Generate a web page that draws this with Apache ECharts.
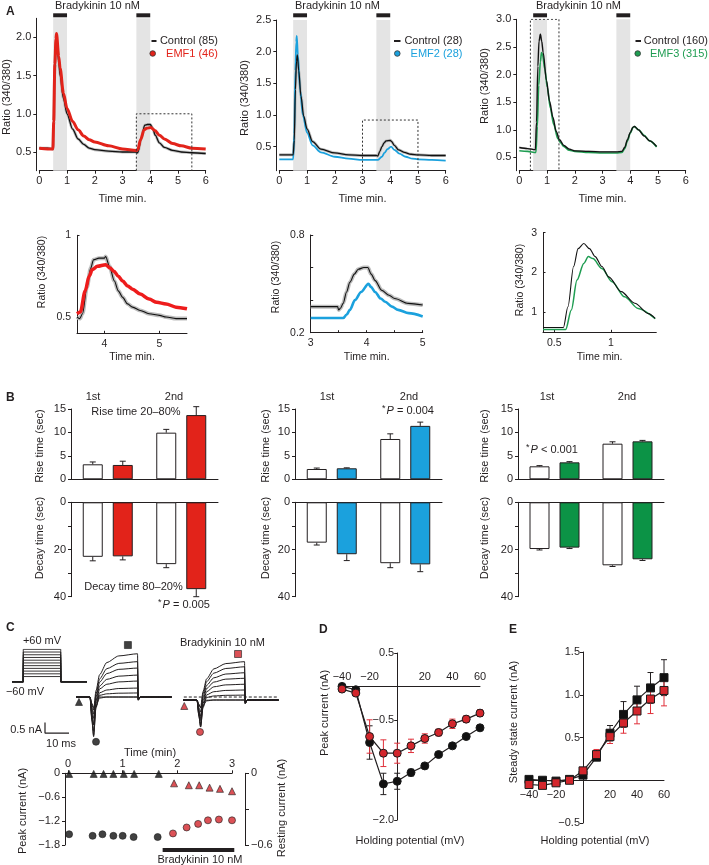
<!DOCTYPE html>
<html><head><meta charset="utf-8">
<script src="https://cdn.jsdelivr.net/npm/echarts@6/dist/echarts.min.js"></script>
<style>html,body{margin:0;padding:0;background:#fff}#c{width:709px;height:865px}</style>
</head><body><div id="c"></div>
<script>
// ================= DATA =================
// Panel A: bradykinin application windows (min)
const stimWindows = [[0.5, 1.0], [3.5, 4.0]];
// A1: [time (min), ratio 340/380]
const a1Control = [[0,0.55],[0.3,0.55],[0.49,0.54],[0.52,0.9],[0.56,1.6],[0.6,1.88],[0.63,1.95],[0.7,1.68],[0.75,1.5],[0.87,1.2],[1.0,1.0],[1.2,0.8],[1.4,0.67],[1.6,0.6],[1.8,0.55],[2.0,0.53],[2.5,0.51],[3.0,0.5],[3.5,0.5],[3.55,0.49],[3.68,0.68],[3.8,0.85],[3.9,0.86],[4.0,0.86],[4.09,0.81],[4.18,0.72],[4.33,0.62],[4.51,0.56],[4.81,0.52],[5.12,0.5],[5.5,0.49],[6.0,0.48]];
const a1Emf1 = [[0,0.55],[0.3,0.54],[0.49,0.54],[0.52,0.9],[0.56,1.65],[0.6,1.98],[0.62,2.05],[0.7,1.75],[0.75,1.6],[0.87,1.27],[1.0,1.07],[1.2,0.9],[1.4,0.79],[1.6,0.71],[1.8,0.66],[2.0,0.63],[2.5,0.58],[3.0,0.54],[3.5,0.52],[3.55,0.53],[3.65,0.66],[3.78,0.79],[3.87,0.81],[4.02,0.82],[4.17,0.78],[4.33,0.72],[4.51,0.67],[4.81,0.61],[5.12,0.58],[5.5,0.55],[6.0,0.54]];
// A2
const a2Control = [[0,0.37],[0.5,0.37],[0.54,0.6],[0.58,1.4],[0.62,1.85],[0.65,1.95],[0.7,1.7],[0.78,1.3],[0.88,0.98],[1.0,0.78],[1.2,0.58],[1.5,0.46],[2.0,0.4],[2.5,0.37],[3.0,0.36],[3.5,0.36],[3.55,0.35],[3.62,0.42],[3.7,0.5],[3.78,0.56],[3.85,0.59],[4.0,0.6],[4.05,0.58],[4.15,0.52],[4.3,0.45],[4.5,0.41],[4.75,0.38],[5.0,0.37],[5.5,0.36],[6.0,0.36]];
const a2Emf2 = [[0,0.3],[0.5,0.3],[0.54,0.7],[0.58,1.7],[0.61,2.15],[0.63,2.25],[0.67,1.95],[0.75,1.4],[0.85,1.0],[1.0,0.72],[1.2,0.52],[1.5,0.41],[2.0,0.34],[2.5,0.31],[3.0,0.29],[3.55,0.29],[3.7,0.34],[3.79,0.4],[3.9,0.46],[4.03,0.5],[4.15,0.45],[4.33,0.39],[4.56,0.34],[4.8,0.31],[5.0,0.3],[5.5,0.29],[6.0,0.28]];
// A3
const a3Control = [[0,0.68],[0.3,0.66],[0.58,0.64],[0.62,1.14],[0.67,2.15],[0.71,2.6],[0.76,2.73],[0.81,2.6],[0.86,2.4],[0.98,1.89],[1.09,1.52],[1.21,1.23],[1.33,0.97],[1.45,0.82],[1.6,0.72],[1.8,0.65],[2.0,0.62],[2.5,0.61],[3.0,0.6],[3.5,0.6],[3.7,0.61],[3.8,0.68],[3.9,0.82],[4.0,0.95],[4.1,1.05],[4.15,1.06],[4.3,1.0],[4.5,0.89],[4.7,0.8],[4.95,0.7]];
const a3Emf3 = [[0,0.62],[0.3,0.61],[0.6,0.59],[0.65,1.06],[0.7,1.81],[0.76,2.23],[0.8,2.4],[0.84,2.35],[0.92,2.1],[1.01,1.77],[1.12,1.39],[1.24,1.1],[1.39,0.84],[1.5,0.76],[1.6,0.7],[1.8,0.63],[2.0,0.61],[2.5,0.59],[3.0,0.58],[3.5,0.58],[3.7,0.59],[3.8,0.66],[3.9,0.8],[4.0,0.94],[4.1,1.04],[4.15,1.06],[4.3,1.0],[4.5,0.9],[4.7,0.8],[4.95,0.69]];
// zoomed windows [xMin, xMax, yMin, yMax]
const a1ZoomBox = [3.5, 5.5, 0.255, 1.0];
const a2ZoomBox = [3.0, 5.0, 0.12, 0.92];
const a3ZoomBox = [0.4, 1.43, 0.26, 3.0];
// insets
const a4Control = [[3.5,0.5],[3.55,0.49],[3.6,0.52],[3.68,0.68],[3.75,0.8],[3.8,0.85],[3.9,0.86],[4.0,0.86],[4.02,0.87],[4.09,0.81],[4.18,0.72],[4.25,0.66],[4.33,0.62],[4.42,0.58],[4.51,0.56],[4.65,0.54],[4.81,0.52],[5.0,0.51],[5.12,0.5],[5.3,0.49],[5.5,0.49]];
const a4Emf1 = [[3.5,0.52],[3.56,0.53],[3.65,0.66],[3.72,0.75],[3.78,0.79],[3.87,0.81],[4.02,0.82],[4.1,0.8],[4.17,0.78],[4.25,0.75],[4.33,0.72],[4.42,0.69],[4.51,0.67],[4.65,0.64],[4.81,0.61],[4.95,0.59],[5.12,0.58],[5.3,0.56],[5.5,0.55]];
const a5Control = [[3.0,0.36],[3.3,0.36],[3.48,0.36],[3.5,0.34],[3.53,0.35],[3.58,0.38],[3.64,0.45],[3.7,0.51],[3.78,0.56],[3.85,0.59],[3.95,0.6],[4.02,0.6],[4.08,0.56],[4.15,0.52],[4.27,0.46],[4.4,0.43],[4.5,0.41],[4.74,0.38],[5.0,0.37]];
const a5Emf2 = [[3.0,0.29],[3.3,0.29],[3.58,0.29],[3.64,0.31],[3.7,0.34],[3.79,0.4],[3.9,0.45],[4.03,0.5],[4.08,0.48],[4.15,0.45],[4.25,0.41],[4.33,0.39],[4.45,0.36],[4.56,0.34],[4.75,0.32],[5.0,0.3]];
const a6Control = [[0.4,0.62],[0.5,0.62],[0.58,0.62],[0.62,1.14],[0.67,2.15],[0.71,2.6],[0.76,2.73],[0.81,2.6],[0.86,2.4],[0.92,2.15],[0.98,1.89],[1.09,1.52],[1.21,1.23],[1.33,0.97],[1.39,0.85]];
const a6Emf3 = [[0.4,0.57],[0.5,0.57],[0.6,0.57],[0.65,1.06],[0.7,1.81],[0.76,2.23],[0.8,2.4],[0.84,2.35],[0.92,2.1],[1.01,1.77],[1.12,1.39],[1.24,1.1],[1.39,0.84]];

// Panel B: [1st, 2nd] stimulus
const stimOrder = ['1st', '2nd'];
const b1RiseCtrl = [3.2, 9.95], b1RiseCtrlErr = [0.5, 0.7];
const b1RiseEmf = [3.06, 13.7], b1RiseEmfErr = [0.8, 1.8];
const b1DecayCtrl = [23.1, 26.2], b1DecayCtrlErr = [1.7, 1.5];
const b1DecayEmf = [22.9, 36.8], b1DecayEmfErr = [1.5, 3.2];
const b2RiseCtrl = [2.2, 8.6], b2RiseCtrlErr = [0.2, 1.1];
const b2RiseEmf = [2.35, 11.4], b2RiseEmfErr = [0.1, 0.8];
const b2DecayCtrl = [17.1, 25.8], b2DecayCtrlErr = [1.0, 1.9];
const b2DecayEmf = [22.0, 26.3], b2DecayEmfErr = [2.7, 3.1];
const b3RiseCtrl = [2.77, 7.6], b3RiseCtrlErr = [0.15, 0.4];
const b3RiseEmf = [3.62, 8.1], b3RiseEmfErr = [0.15, 0.2];
const b3DecayCtrl = [19.8, 26.7], b3DecayCtrlErr = [0.4, 0.5];
const b3DecayEmf = [19.2, 24.15], b3DecayEmfErr = [0.4, 0.5];

// Panel C: voltage protocol (mV), current traces (ms, nA)
const holdLevel = -60;
const stepLevels = [-40,-30,-20,-10,0,10,20,30,40,50,60];
const pulseMs = [0, 20];
const traceTimes = [-5.8, 0, 0.8, 1.5, 2.5, 4, 7, 12, 19.8, 20.1, 21, 34];
const ctrlTraces = [
  [0,0,-0.3,-0.5,-0.15,0,0,0,0,-0.05,0,0],
  [0,0,-0.8,-1.3,-0.4,-0.05,0,0,0,-0.05,0,0],
  [0,0,-1.1,-1.86,-0.5,0.08,0.15,0.18,0.19,-0.1,0,0],
  [0,0,-1.1,-1.8,-0.45,0.2,0.33,0.4,0.42,-0.1,0,0],
  [0,0,-1.0,-1.6,-0.3,0.38,0.6,0.71,0.75,-0.12,0,0],
  [0,0,-0.8,-1.3,-0.15,0.52,0.83,0.98,1.03,-0.12,0,0],
  [0,0,-0.6,-1.0,0.0,0.7,1.1,1.3,1.36,-0.14,0,0],
  [0,0,-0.5,-0.8,0.15,0.85,1.33,1.58,1.66,-0.14,0,0],
  [0,0,-0.35,-0.6,0.3,1.05,1.62,1.93,2.03,-0.15,0,0]
];
const bkTraces = [
  [-0.14,-0.14,-0.35,-0.5,-0.25,-0.15,-0.14,-0.14,-0.14,-0.2,-0.14,-0.14],
  [-0.14,-0.14,-0.7,-1.0,-0.4,-0.18,-0.14,-0.14,-0.14,-0.22,-0.14,-0.14],
  [-0.14,-0.14,-0.9,-1.4,-0.5,-0.02,0.05,0.08,0.09,-0.25,-0.14,-0.14],
  [-0.14,-0.14,-0.9,-1.41,-0.45,0.1,0.25,0.31,0.33,-0.25,-0.14,-0.14],
  [-0.14,-0.14,-0.85,-1.3,-0.3,0.25,0.48,0.57,0.6,-0.28,-0.14,-0.14],
  [-0.14,-0.14,-0.7,-1.1,-0.15,0.4,0.7,0.84,0.88,-0.28,-0.14,-0.14],
  [-0.14,-0.14,-0.6,-0.9,0.0,0.55,0.9,1.08,1.14,-0.3,-0.14,-0.14],
  [-0.14,-0.14,-0.5,-0.7,0.15,0.72,1.12,1.34,1.42,-0.3,-0.14,-0.14],
  [-0.14,-0.14,-0.35,-0.5,0.25,0.85,1.32,1.57,1.66,-0.3,-0.14,-0.14]
];
const ctrlSquare = [15.8, 2.44], ctrlTriangle = [-4.6, -0.23], ctrlCircle = [2.5, -2.1];
const bkSquare = [17.1, 2.02], bkTriangle = [-5.3, -0.42], bkCircle = [1.25, -1.64];
const scaleBarOrigin = [-18.75, -1.69], scaleBarNA = 0.5, scaleBarMs = 10;
// time course (min)
const tcPeakTimeCtrl = [0.02,0.45,0.63,0.83,1.0,1.2,1.64];
const tcPeakCtrl = [-1.53,-1.57,-1.53,-1.57,-1.57,-1.6,-1.6];
const tcPeakTimeBk = [1.92,2.17,2.38,2.56,2.76,3.0];
const tcPeakBk = [-1.51,-1.36,-1.27,-1.18,-1.16,-1.18];
const tcRestTimeCtrl = [0.02,0.47,0.65,0.83,1.02,1.21,1.66];
const tcRestCtrl = [-0.005,-0.005,-0.005,-0.005,-0.005,-0.005,-0.005];
const tcRestTimeBk = [1.94,2.21,2.4,2.59,2.78,3.0];
const tcRestBk = [-0.084,-0.1,-0.1,-0.12,-0.13,-0.15];
const bkWindowMin = [1.73, 3.04];

// Panels D, E: holding potential (mV)
const holdingV = [-40,-30,-20,-10,0,10,20,30,40,50,60];
const dCtrl = [0.0,-0.05,-0.84,-1.46,-1.42,-1.29,-1.19,-1.02,-0.89,-0.75,-0.62];
const dCtrlErr = [0.02,0.02,0.25,0.16,0.12,0.05,0.03,0.03,0.03,0.03,0.03];
const dBk = [-0.04,-0.1,-0.75,-1.0,-1.0,-0.89,-0.78,-0.69,-0.56,-0.49,-0.4];
const dBkErr = [0.02,0.02,0.25,0.2,0.15,0.1,0.07,0.05,0.07,0.05,0.05];
const eCtrl = [0.01,0.0,-0.01,0.01,0.06,0.27,0.55,0.77,0.94,1.08,1.2];
const eCtrlErr = [0.01,0.01,0.01,0.01,0.02,0.03,0.09,0.15,0.16,0.18,0.21];
const eBk = [-0.05,-0.06,-0.03,0.0,0.11,0.3,0.51,0.67,0.81,0.95,1.05];
const eBkErr = [0.01,0.01,0.01,0.01,0.02,0.06,0.08,0.12,0.15,0.17,0.18];

// ================= STYLE / BUILD =================
const FONT = '"Liberation Sans", Arial, Helvetica, sans-serif';
const INK = '#231f20';
const RED = '#e2231a', RED_PT = '#d3262c', BLUE = '#1ba1dd', GREEN = '#0c9346', GREEN_LINE = '#1f9d52';
const minus = s => String(s).replace('-', '\u2212');

const grids = [], xAxes = [], yAxes = [], series = [], graphics = [];
function addGrid(g) { grids.push(Object.assign({ containLabel: false, outerBoundsMode: 'none' }, g)); return grids.length - 1; }
function addX(o) { xAxes.push(o); return xAxes.length - 1; }
function addY(o) { yAxes.push(o); return yAxes.length - 1; }
function ax(o) {
  const a = {
    type: o.type || 'value', gridIndex: o.grid, position: o.position, offset: o.offset || 0,
    inverse: !!o.inverse, show: o.show !== false, splitLine: { show: false },
    axisLine: { show: o.line !== false, onZero: false, lineStyle: { color: INK, width: 1 } },
    axisTick: { show: o.tickLen !== 0, length: o.tickLen == null ? 3 : o.tickLen, inside: !!o.tickInside, lineStyle: { color: INK, width: 1 } },
    axisLabel: { show: o.labels !== false, color: INK, fontFamily: FONT, fontSize: o.fs || 11, margin: o.margin == null ? 4 : o.margin, hideOverlap: false }
  };
  if (o.type === 'category') { a.data = o.data; } else { a.min = o.min; a.max = o.max; }
  if (o.fmt) a.axisLabel.formatter = o.fmt;
  if (o.interval != null) a.interval = o.interval;
  if (o.labelValues) a.axisLabel.customValues = o.labelValues;
  if (o.tickValues) a.axisTick.customValues = o.tickValues;
  return a;
}
function txt(x, y, text, o = {}) {
  const st = { text, fill: o.color || INK, font: `${o.italic ? 'italic ' : ''}${o.bold ? 'bold ' : ''}${o.size || 11}px ${FONT}`,
    align: o.align || 'center', verticalAlign: 'middle' };
  if (o.rich) st.rich = o.rich;
  graphics.push({ type: 'text', x, y, rotation: o.rot || 0, z: 100, silent: true, style: st });
}
function lineS(xi, yi, data, color, width, extra) {
  return Object.assign({ type: 'line', xAxisIndex: xi, yAxisIndex: yi, data, showSymbol: false, symbol: 'none', silent: true,
    smooth: 0.3, smoothMonotone: 'x', lineStyle: { color, width }, z: 3 }, extra || {});
}
function rectSeries(xi, yi, windows, color) {
  return { type: 'custom', xAxisIndex: xi, yAxisIndex: yi, silent: true, data: windows, encode: { x: [0, 1] }, z: 4,
    renderItem(p, api) {
      const a = api.coord([api.value(0), 1]), b = api.coord([api.value(1), 0]);
      return { type: 'rect', shape: { x: a[0], y: a[1], width: b[0] - a[0], height: b[1] - a[1] }, style: { fill: color } };
    } };
}
function boxSeries(xi, yi, b) {
  return { type: 'line', xAxisIndex: xi, yAxisIndex: yi, silent: true, showSymbol: false, symbol: 'none', z: 6,
    data: [[b[0], b[2]], [b[0], b[3]], [b[1], b[3]], [b[1], b[2]]],
    lineStyle: { color: '#333', width: 1, type: [2, 2] } };
}
function errSeries(xi, yi, xs, vals, errs, color, offset, oneSided) {
  return { type: 'custom', xAxisIndex: xi, yAxisIndex: yi, silent: true, z: oneSided ? 5 : 2, encode: { x: 0, y: 1 },
    data: vals.map((v, i) => [xs[i], v, errs[i]]),
    renderItem(p, api) {
      const c = api.value(0), v = api.value(1), e = api.value(2);
      const lo = api.coord([c, oneSided ? v : v - e]), hi = api.coord([c, v + e]);
      const x = lo[0] + offset;
      const kids = [
        { type: 'line', shape: { x1: x, y1: lo[1], x2: x, y2: hi[1] }, style: { stroke: color, lineWidth: 1 } },
        { type: 'line', shape: { x1: x - 3, y1: hi[1], x2: x + 3, y2: hi[1] }, style: { stroke: color, lineWidth: 1 } }
      ];
      if (!oneSided) kids.push({ type: 'line', shape: { x1: x - 3, y1: lo[1], x2: x + 3, y2: lo[1] }, style: { stroke: color, lineWidth: 1 } });
      return { type: 'group', children: kids };
    } };
}
const zipXY = (xs, ys) => xs.map((x, i) => [x, ys[i]]);

// ---------- Panel A (top) ----------
function panelA(c) {
  const g = addGrid({ left: c.left, top: c.top, width: c.width, height: c.height });
  const xi = addX(ax({ grid: g, min: 0, max: 6, interval: 1, position: 'bottom', margin: 5 }));
  const yi = addY(ax({ grid: g, min: c.ymin, max: c.ymax, position: 'left', offset: 3, labelValues: c.yLabels, tickValues: c.yLabels, fmt: v => v.toFixed(1), margin: 5 }));
  const gb = addGrid({ left: c.left, top: c.barTop, width: c.width, height: 4 });
  const xb = addX(ax({ grid: gb, min: 0, max: 6, show: false }));
  const yb = addY(ax({ grid: gb, min: 0, max: 1, show: false }));
  series.push(rectSeries(xb, yb, stimWindows, INK));
  const bands = { silent: true, itemStyle: { color: '#e4e4e4' }, data: stimWindows.map(w => [{ xAxis: w[0] }, { xAxis: w[1] }]) };
  const sCtrlShadow = lineS(xi, yi, c.ctrl, '#bdbdbd', c.shadow || 3, { markArea: bands, z: 2 });
  const sCtrl = lineS(xi, yi, c.ctrl, '#111', 1.3);
  const sEmf = lineS(xi, yi, c.emf, c.color, c.emfWidth);
  if (c.emfOnTop) series.push(sCtrlShadow, sCtrl, sEmf); else series.push(sCtrlShadow, sEmf, sCtrl);
  series.push(boxSeries(xi, yi, c.box));
  txt(c.titleX, 6, 'Bradykinin 10 nM');
  txt(c.nameX, c.nameY, 'Ratio (340/380)', { rot: Math.PI / 2 });
  txt(c.left + c.width / 2, 199, 'Time min.');
  graphics.push({ type: 'line', silent: true, z: 100, shape: { x1: c.dash[0], y1: 41, x2: c.dash[1], y2: 41 }, style: { stroke: INK, lineWidth: 2 } });
  graphics.push({ type: 'circle', silent: true, z: 100, shape: { cx: c.dot, cy: 53.5, r: 2.8 }, style: { fill: c.color, stroke: '#333', lineWidth: 0.8 } });
  txt(c.legRight, 41, c.ctrlName, { align: 'right' });
  txt(c.legRight, 54, c.emfName, { align: 'right', color: c.color });
}
panelA({ left: 39.3, top: 18.3, width: 166.4, height: 152.4, ymin: 0.255, ymax: 2.25, yLabels: [0.5, 1, 1.5, 2],
  ctrl: a1Control, emf: a1Emf1, color: RED, emfWidth: 3, emfOnTop: true, box: a1ZoomBox, barTop: 13.3,
  titleX: 97.5, nameX: 7, nameY: 97, dash: [151.5, 156.5], dot: 152.7, legRight: 218, ctrlName: 'Control (85)', emfName: 'EMF1 (46)' });
panelA({ left: 279.3, top: 20, width: 166.4, height: 150.7, ymin: 0.12, ymax: 2.5, yLabels: [0.5, 1, 1.5, 2, 2.5],
  ctrl: a2Control, emf: a2Emf2, color: BLUE, emfWidth: 1.8, emfOnTop: false, box: a2ZoomBox, barTop: 13.3,
  titleX: 337.5, nameX: 245, nameY: 98, dash: [394, 400.5], dot: 397.3, legRight: 462.5, ctrlName: 'Control (28)', emfName: 'EMF2 (28)' });
panelA({ left: 519.3, top: 19.3, width: 166.4, height: 151.4, ymin: 0.26, ymax: 3.0, yLabels: [0.5, 1, 1.5, 2, 2.5, 3],
  ctrl: a3Control, emf: a3Emf3, color: GREEN_LINE, emfWidth: 1.6, emfOnTop: false, box: a3ZoomBox, barTop: 13.3, shadow: 1.8,
  titleX: 578.5, nameX: 485, nameY: 86, dash: [635.5, 641], dot: 637.7, legRight: 708, ctrlName: 'Control (160)', emfName: 'EMF3 (315)' });

// ---------- Panel A (insets) ----------
function inset(c) {
  const g = addGrid({ left: c.left, top: c.top, width: c.width, height: c.height });
  const xi = addX(ax({ grid: g, min: c.xr[0], max: c.xr[1], position: 'bottom', labelValues: c.xl, tickValues: c.xt || c.xl, tickInside: true, tickLen: 2.5, fs: 10.5, margin: 5, fmt: v => String(v) }));
  const yi = addY(ax({ grid: g, min: c.yr[0], max: c.yr[1], position: 'left', labelValues: c.yl, tickValues: c.yt || c.yl, tickInside: true, tickLen: 2.5, fs: 10.5, margin: 6, fmt: v => String(v) }));
  if (c.shadow) series.push(lineS(xi, yi, c.ctrl, '#bdbdbd', c.shadow, { z: 2 }));
  const sCtrl = lineS(xi, yi, c.ctrl, '#111', 1.1);
  const sEmf = lineS(xi, yi, c.emf, c.color, c.emfWidth);
  if (c.emfOnTop) series.push(sCtrl, sEmf); else series.push(sEmf, sCtrl);
  txt(c.nameX, c.nameY, 'Ratio (340/380)', { rot: Math.PI / 2, size: 10.5 });
  txt(c.left + c.width / 2, 357, 'Time min.', { size: 10.5 });
}
inset({ left: 77, top: 235.3, width: 110, height: 98, xr: [3.5, 5.5], yr: [0.4, 1.0], xl: [4, 5], yl: [0.5, 1],
  ctrl: a4Control, emf: a4Emf1, color: '#ee1c1c', emfWidth: 3.5, shadow: 4, emfOnTop: true, nameX: 42, nameY: 272 });
inset({ left: 310.7, top: 235, width: 112, height: 97.7, xr: [3, 5], yr: [0.2, 0.8], xl: [3, 4, 5], xt: [3, 3.5, 4, 4.5, 5], yl: [0.2, 0.8], yt: [0.2, 0.4, 0.6, 0.8],
  ctrl: a5Control, emf: a5Emf2, color: BLUE, emfWidth: 2.6, shadow: 4, emfOnTop: false, nameX: 276, nameY: 277 });
inset({ left: 543, top: 232.7, width: 113.3, height: 99.6, xr: [0.4, 1.4], yr: [0.5, 3], xl: [0.5, 1], yl: [1, 2, 3],
  ctrl: a6Control, emf: a6Emf3, color: GREEN_LINE, emfWidth: 1.5, emfOnTop: false, nameX: 520, nameY: 280 });

// ---------- Panel B ----------
function panelB(c) {
  const gr = addGrid({ left: c.left, top: 409, width: c.width, height: 70.3 });
  const xr = addX(ax({ grid: gr, type: 'category', data: stimOrder, position: 'bottom', tickLen: 0, labels: false }));
  const yr = addY(ax({ grid: gr, min: 0, max: 15, interval: 5, position: 'left', margin: 5 }));
  const bar = (xi, yi, d, col) => ({ type: 'bar', xAxisIndex: xi, yAxisIndex: yi, data: d, barWidth: 20, barGap: '50%', silent: true, z: 3,
    itemStyle: { color: col, borderColor: INK, borderWidth: 1 } });
  series.push(bar(xr, yr, c.rc, '#fff'), bar(xr, yr, c.re, c.color));
  series.push(errSeries(xr, yr, [0, 1], c.rc, c.rce, INK, -15, true), errSeries(xr, yr, [0, 1], c.re, c.ree, INK, 15, true));
  const gd = addGrid({ left: c.left, top: 502.3, width: c.width, height: 94.4 });
  const xd = addX(ax({ grid: gd, type: 'category', data: stimOrder, position: 'top', tickLen: 0, labels: false }));
  const yd = addY(ax({ grid: gd, min: 0, max: 40, interval: 10, inverse: true, position: 'left', labelValues: [0, 20, 40], tickValues: [0, 10, 20, 30, 40], margin: 5 }));
  series.push(bar(xd, yd, c.dc, '#fff'), bar(xd, yd, c.de, c.color));
  series.push(errSeries(xd, yd, [0, 1], c.dc, c.dce, INK, -15, true), errSeries(xd, yd, [0, 1], c.de, c.dee, INK, 15, true));
  txt(c.nameX, 446, 'Rise time (sec)', { rot: Math.PI / 2 });
  txt(c.nameX, 538, 'Decay time (sec)', { rot: Math.PI / 2 });
  txt(c.first, 397, '1st');
  txt(c.second, 397, '2nd');
}
panelB({ left: 71, width: 147, color: RED, rc: b1RiseCtrl, rce: b1RiseCtrlErr, re: b1RiseEmf, ree: b1RiseEmfErr,
  dc: b1DecayCtrl, dce: b1DecayCtrlErr, de: b1DecayEmf, dee: b1DecayEmfErr, nameX: 40, first: 93, second: 174 });
panelB({ left: 295, width: 147, color: BLUE, rc: b2RiseCtrl, rce: b2RiseCtrlErr, re: b2RiseEmf, ree: b2RiseEmfErr,
  dc: b2DecayCtrl, dce: b2DecayCtrlErr, de: b2DecayEmf, dee: b2DecayEmfErr, nameX: 266, first: 327, second: 409 });
panelB({ left: 518, width: 146, color: GREEN, rc: b3RiseCtrl, rce: b3RiseCtrlErr, re: b3RiseEmf, ree: b3RiseEmfErr,
  dc: b3DecayCtrl, dce: b3DecayCtrlErr, de: b3DecayEmf, dee: b3DecayEmfErr, nameX: 485, first: 547, second: 627 });
const pRich = { n: { fontSize: 11, fontFamily: FONT, fill: INK }, s: { fontSize: 9, fontFamily: FONT, fill: INK, padding: [0, 1, 4, 0] }, i: { fontSize: 11, fontFamily: FONT, fontStyle: 'italic', fill: INK } };
txt(136, 412, 'Rise time 20\u201380%');
txt(133.5, 587, 'Decay time 80\u201320%');
txt(184, 605, '{s|*}{i|P}{n| = 0.005}', { rich: pRich });
txt(408, 411, '{s|*}{i|P}{n| = 0.004}', { rich: pRich });
txt(552, 450, '{s|*}{i|P}{n| < 0.001}', { rich: pRich });

// ---------- Panel C ----------
// voltage protocol
{
  const g = addGrid({ left: 12, top: 649.3, width: 75, height: 32.7 });
  const xi = addX(ax({ grid: g, min: -6, max: 34, show: false }));
  const yi = addY(ax({ grid: g, min: -60, max: 60, show: false }));
  stepLevels.forEach(v => series.push({ type: 'line', xAxisIndex: xi, yAxisIndex: yi, silent: true, symbol: 'none', showSymbol: false, z: 3,
    lineStyle: { color: INK, width: 0.9 },
    data: [[-6, holdLevel], [pulseMs[0], holdLevel], [pulseMs[0], v], [pulseMs[1], v], [pulseMs[1], holdLevel], [34, holdLevel]] }));
}
function traceGrid(c) {
  const g = addGrid({ left: c.left, top: 639.5, width: c.width, height: 110.8 });
  const xi = addX(ax({ grid: g, min: c.xr[0], max: c.xr[1], show: false }));
  const yi = addY(ax({ grid: g, min: -2.5, max: 2.7, show: false }));
  c.traces.forEach(tr => series.push({ type: 'line', xAxisIndex: xi, yAxisIndex: yi, silent: true, symbol: 'none', showSymbol: false, z: 3,
    smooth: 0.25, smoothMonotone: 'x', lineStyle: { color: INK, width: 1 }, data: zipXY(traceTimes, tr) }));
  const mk = (pt, sym, col, size) => ({ type: 'scatter', xAxisIndex: xi, yAxisIndex: yi, silent: true, z: 5, clip: false, data: [pt], symbol: sym, symbolSize: size,
    itemStyle: { color: col, borderColor: '#222', borderWidth: 0.8 } });
  series.push(mk(c.square, 'rect', c.col, 7), mk(c.triangle, 'triangle', c.col, 7), mk(c.circle, 'circle', c.col, 7));
  return { xi, yi };
}
const tc1 = traceGrid({ left: 42, width: 132, xr: [-20, 35], traces: ctrlTraces, square: ctrlSquare, triangle: ctrlTriangle, circle: ctrlCircle, col: '#111' });
series.push({ type: 'line', xAxisIndex: tc1.xi, yAxisIndex: tc1.yi, silent: true, symbol: 'none', showSymbol: false, z: 3, lineStyle: { color: INK, width: 1.2 },
  data: [[scaleBarOrigin[0], scaleBarOrigin[1] + scaleBarNA], scaleBarOrigin, [scaleBarOrigin[0] + scaleBarMs, scaleBarOrigin[1]]] });
const tc2 = traceGrid({ left: 183.8, width: 94.8, xr: [-5.5, 34], traces: bkTraces, square: bkSquare, triangle: bkTriangle, circle: bkCircle, col: RED_PT });
series.push({ type: 'line', xAxisIndex: tc2.xi, yAxisIndex: tc2.yi, silent: true, symbol: 'none', showSymbol: false, z: 4, lineStyle: { color: INK, width: 1, type: [3, 2] },
  data: [[-5.5, 0], [34, 0]] });
txt(42, 641, '+60 mV');
txt(25, 692, '\u221260 mV');
txt(222.5, 643, 'Bradykinin 10 nM');
txt(42, 729.5, '0.5 nA', { align: 'right' });
txt(61, 743.5, '10 ms');
// time course
{
  const g = addGrid({ left: 65, top: 773.3, width: 167, height: 71.7 });
  const xi = addX(ax({ grid: g, min: -0.055, max: 3.0, position: 'top', labelValues: [0, 1, 2, 3], tickValues: [0, 1, 2, 3], margin: 4, fmt: v => String(v) }));
  const yl = addY(ax({ grid: g, min: -1.8, max: 0, position: 'left', labelValues: [0, -0.6, -1.2, -1.8], tickValues: [0, -0.6, -1.2, -1.8], margin: 5, fmt: v => v === 0 ? '0' : minus(v.toFixed(1)) }));
  const yr = addY(ax({ grid: g, min: -0.6, max: 0, position: 'right', offset: 13, labelValues: [0, -0.6], tickValues: [0, -0.3, -0.6], tickLen: 4, margin: 6, fmt: v => v === 0 ? '0' : minus(v.toFixed(1)) }));
  const sc = (yi, xs, ys, sym, col) => ({ type: 'scatter', xAxisIndex: xi, yAxisIndex: yi, silent: true, clip: false, z: 5, symbol: sym, symbolSize: 7,
    data: zipXY(xs, ys), itemStyle: { color: col, borderColor: '#222', borderWidth: 0.8 } });
  series.push(sc(yl, tcPeakTimeCtrl, tcPeakCtrl, 'circle', '#111'), sc(yl, tcPeakTimeBk, tcPeakBk, 'circle', RED_PT));
  series.push(sc(yr, tcRestTimeCtrl, tcRestCtrl, 'triangle', '#111'), sc(yr, tcRestTimeBk, tcRestBk, 'triangle', RED_PT));
  const gb = addGrid({ left: 65, top: 848, width: 170, height: 4 });
  const xb = addX(ax({ grid: gb, min: -0.055, max: 3.053, show: false }));
  const yb = addY(ax({ grid: gb, min: 0, max: 1, show: false }));
  series.push(rectSeries(xb, yb, [bkWindowMin], INK));
  txt(150, 753, 'Time (min)');
  txt(200, 859.5, 'Bradykinin 10 nM');
  txt(23, 811, 'Peak current (nA)', { rot: Math.PI / 2 });
  txt(282, 808, 'Resting current (nA)', { rot: Math.PI / 2 });
}

// ---------- Panel D ----------  (axes cross at the origin)
{
  const L = 342, T = 653, W = 138, H = 167, X0 = -40, X1 = 60, Y0 = -2, Y1 = 0.5;
  const g = addGrid({ left: L, top: T, width: W, height: H });
  const xi = addX(ax({ grid: g, min: X0, max: X1, position: 'top', offset: -H * Y1 / (Y1 - Y0), labelValues: [-40, -20, 20, 40, 60], tickValues: [-40, -20, 20, 40, 60], tickLen: 0, margin: 4, fmt: v => minus(v) }));
  const yi = addY(ax({ grid: g, min: Y0, max: Y1, position: 'left', offset: -W * (0 - X0) / (X1 - X0), labelValues: [0.5, -0.5, -2.0], tickValues: [0.5, -0.5, -2.0], margin: 3, fmt: v => minus(v.toFixed(1)) }));
  series.push(errSeries(xi, yi, holdingV, dCtrl, dCtrlErr, INK, 0, false), errSeries(xi, yi, holdingV, dBk, dBkErr, '#e0303a', 0, false));
  const ln = (d, col) => ({ type: 'line', xAxisIndex: xi, yAxisIndex: yi, silent: true, z: 4, data: zipXY(holdingV, d), symbol: 'circle', symbolSize: 8,
    lineStyle: { color: INK, width: 1.2 }, itemStyle: { color: col, borderColor: '#1a1a1a', borderWidth: 1 } });
  series.push(ln(dCtrl, '#111'), ln(dBk, RED_PT));
  txt(325, 713, 'Peak current (nA)', { rot: Math.PI / 2 });
  txt(410, 841, 'Holding potential (mV)');
}
// ---------- Panel E ----------
{
  const L = 529, T = 652, W = 135, H = 171, X0 = -40, X1 = 60, Y0 = -0.5, Y1 = 1.5;
  const g = addGrid({ left: L, top: T, width: W, height: H });
  const xi = addX(ax({ grid: g, min: X0, max: X1, position: 'bottom', offset: -H * (0 - Y0) / (Y1 - Y0), labelValues: [-40, -20, 20, 40, 60], tickValues: [-40, -20, 20, 40, 60], tickLen: 0, margin: 9, fmt: v => minus(v) }));
  const yi = addY(ax({ grid: g, min: Y0, max: Y1, position: 'left', offset: -W * (0 - X0) / (X1 - X0), labelValues: [1.5, 1.0, 0.5, -0.5], tickValues: [1.5, 1.0, 0.5, -0.5], margin: 3, fmt: v => minus(v.toFixed(1)) }));
  series.push(errSeries(xi, yi, holdingV, eCtrl, eCtrlErr, INK, 0, false), errSeries(xi, yi, holdingV, eBk, eBkErr, '#e0303a', 0, false));
  const ln = (d, col) => ({ type: 'line', xAxisIndex: xi, yAxisIndex: yi, silent: true, z: 4, data: zipXY(holdingV, d), symbol: 'rect', symbolSize: 8,
    lineStyle: { color: INK, width: 1.2 }, itemStyle: { color: col, borderColor: '#1a1a1a', borderWidth: 1 } });
  series.push(ln(eCtrl, '#111'), ln(eBk, RED_PT));
  txt(514, 722, 'Steady state current (nA)', { rot: Math.PI / 2 });
  txt(595, 841, 'Holding potential (mV)');
}

// panel letters
txt(6, 12, 'A', { bold: true, size: 12, align: 'left' });
txt(6, 398, 'B', { bold: true, size: 12, align: 'left' });
txt(6, 628, 'C', { bold: true, size: 12, align: 'left' });
txt(319, 630, 'D', { bold: true, size: 12, align: 'left' });
txt(509, 630, 'E', { bold: true, size: 12, align: 'left' });

const chart = echarts.init(document.getElementById('c'), null, { renderer: 'canvas' });
chart.setOption({
  backgroundColor: '#fff', animation: false, textStyle: { fontFamily: FONT },
  grid: grids, xAxis: xAxes, yAxis: yAxes, series, graphic: graphics
});
</script>
</body></html>
